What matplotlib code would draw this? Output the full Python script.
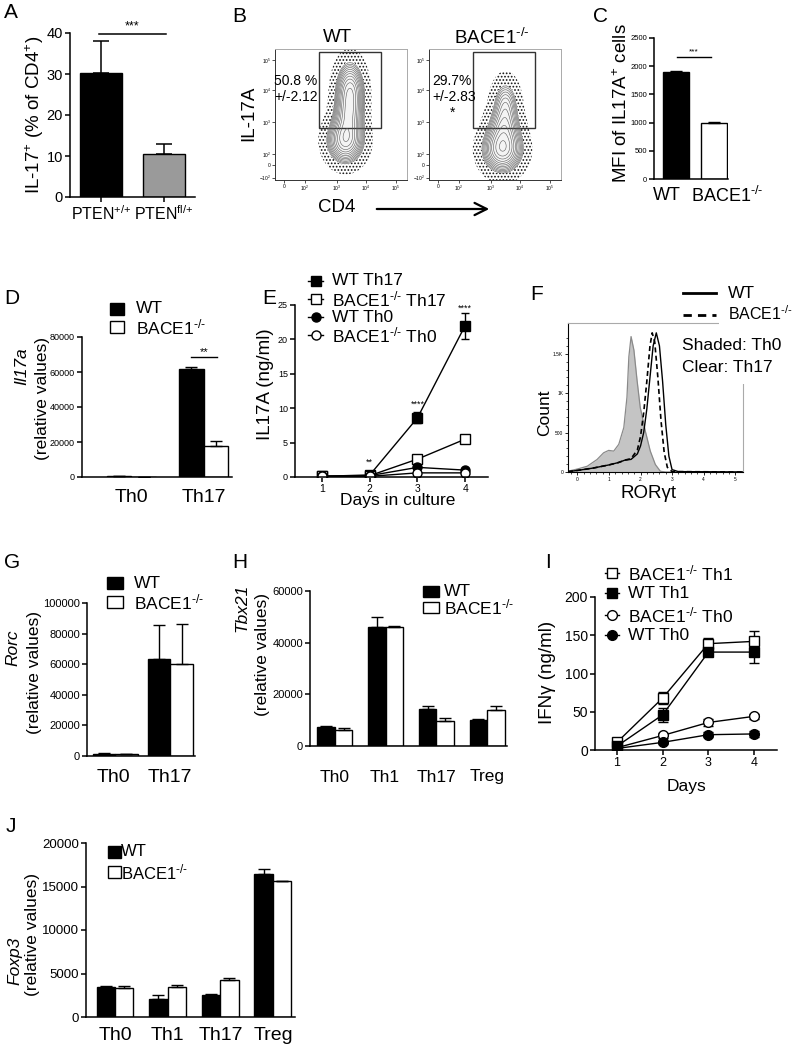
import numpy as np
import matplotlib
matplotlib.use("Agg")
import matplotlib.pyplot as plt
from matplotlib.lines import Line2D
from matplotlib.patches import Rectangle, FancyArrowPatch

plt.rcParams['font.family'] = ['Liberation Sans', 'DejaVu Sans']
plt.rcParams['mathtext.fontset'] = 'custom'
plt.rcParams['mathtext.rm'] = 'Liberation Sans'
plt.rcParams['mathtext.it'] = 'Liberation Sans:italic'
plt.rcParams['mathtext.bf'] = 'Liberation Sans:bold'
plt.rcParams['mathtext.default'] = 'regular'
plt.rcParams['hatch.color'] = '#111111'
plt.rcParams['hatch.linewidth'] = 0.8

KO = 'BACE1$^{\\text{-/-}}$'

# ---- data ----
# A
pten_groups = ['PTEN$^{\\text{+/+}}$', 'PTEN$^{\\text{fl/+}}$']
pten_il17 = [30.2, 10.6]
pten_err = [7.8, 2.4]
# B (flow populations: centre u, centre v, spread u, spread v, weight)
wt_pops = [(2.05, 0.8, 0.33, 0.40, 1.0), (2.15, 1.55, 0.27, 0.40, 0.6), (2.2, 2.35, 0.26, 0.52, 0.9)]
ko_pops = [(2.15, 0.5, 0.36, 0.40, 1.1), (2.2, 1.2, 0.30, 0.40, 0.55), (2.25, 1.95, 0.24, 0.45, 0.45)]
wt_pct = '50.8 %\n+/-2.12'
ko_pct = '29.7%\n+/-2.83'
# C
mfi = [1900, 990]
mfi_err = [8, 25]
# D
d_groups = ['Th0', 'Th17']
d_wt = [300, 61500]
d_wt_err = [0, 1500]
d_ko = [250, 17500]
d_ko_err = [0, 2800]
# E
days = [1, 2, 3, 4]
e_wt_th17 = [0.1, 0.3, 8.6, 22.0]
e_wt_th17_err = [0.05, 0.1, 0.8, 1.9]
e_ko_th17 = [0.1, 0.2, 2.6, 5.5]
e_ko_th17_err = [0.0, 0.05, 0.4, 0.3]
e_wt_th0 = [0.1, 0.2, 1.4, 1.0]
e_wt_th0_err = [0.0, 0.0, 0.2, 0.1]
e_ko_th0 = [0.1, 0.1, 0.6, 0.6]
e_ko_th0_err = [0.0, 0.0, 0.1, 0.1]
# F (histogram outlines)
f_th0_x = [-0.3, 0.0, 0.31, 0.62, 0.83, 0.99, 1.15, 1.31, 1.47, 1.57, 1.63, 1.70, 1.79, 1.89, 1.99, 2.15, 2.31, 2.47, 2.63, 2.8, 5.25]
f_th0_y = [10, 38, 73, 158, 244, 274, 265, 351, 564, 949, 1462, 1718, 1547, 1163, 821, 522, 265, 95, 9, 0, 0]
f_wt_x = [-0.3, 0.0, 0.5, 1.0, 1.3, 1.5, 1.7, 1.9, 2.0, 2.1, 2.2, 2.3, 2.4, 2.5, 2.6, 2.7, 2.8, 2.9, 3.0, 3.2, 5.25]
f_wt_y = [5, 20, 50, 90, 120, 150, 160, 230, 330, 500, 800, 1200, 1600, 1765, 1600, 1150, 600, 200, 30, 5, 0]
f_ko_x = [-0.3, 0.0, 0.5, 1.0, 1.3, 1.5, 1.7, 1.9, 2.0, 2.1, 2.2, 2.3, 2.37, 2.45, 2.55, 2.65, 2.75, 2.85, 3.0, 5.25]
f_ko_y = [5, 20, 50, 90, 120, 150, 170, 280, 450, 750, 1150, 1600, 1765, 1650, 1200, 650, 250, 60, 5, 0]
# G
g_groups = ['Th0', 'Th17']
g_wt = [1500, 63500]
g_wt_err = [700, 22000]
g_ko = [1000, 60000]
g_ko_err = [300, 26500]
# H
h_groups = ['Th0', 'Th1', 'Th17', 'Treg']
h_wt = [7300, 46000, 14500, 10000]
h_wt_err = [400, 3800, 1000, 400]
h_ko = [6200, 46000, 9800, 13800]
h_ko_err = [600, 400, 1200, 1600]
# I
i_ko_th1 = [10, 68, 139, 142]
i_ko_th1_err = [2, 8, 7, 13]
i_wt_th1 = [5, 46, 128, 128]
i_wt_th1_err = [1, 9, 4, 14]
i_ko_th0 = [3, 19, 36, 44]
i_ko_th0_err = [1, 3, 5, 3]
i_wt_th0 = [2, 10, 20, 21]
i_wt_th0_err = [1, 2, 3, 4]
# J
j_groups = ['Th0', 'Th1', 'Th17', 'Treg']
j_wt = [3400, 2100, 2550, 16400]
j_wt_err = [200, 400, 50, 600]
j_ko = [3350, 3500, 4250, 15600]
j_ko_err = [200, 200, 200, 0]

W, H = 800, 1044
fig = plt.figure(figsize=(8, 10.44), dpi=100)


def add_ax(x0, y0, x1, y1):
    return fig.add_axes([x0 / W, 1 - y1 / H, (x1 - x0) / W, (y1 - y0) / H])


def ftext(x, y, s, **kw):
    kw.setdefault('va', 'center')
    return fig.text(x / W, 1 - y / H, s, **kw)


def prism(ax, fs):
    for s in ['top', 'right']:
        ax.spines[s].set_visible(False)
    for s in ['left', 'bottom']:
        ax.spines[s].set_linewidth(1.1)
    ax.tick_params(direction='out', length=3.5, width=1.1, labelsize=fs, pad=1.5)


def grouped(ax, wt, wt_err, ko, ko_err, bw):
    x = np.arange(len(wt))
    ax.bar(x - bw / 2, wt, bw, color='black', edgecolor='black', lw=1)
    ax.bar(x + bw / 2, ko, bw, color='white', edgecolor='black', lw=1)
    ax.errorbar(x - bw / 2, wt, yerr=[np.zeros(len(wt)), wt_err], fmt='none', ecolor='black',
                elinewidth=1, capsize=4, capthick=1)
    ax.errorbar(x + bw / 2, ko, yerr=[np.zeros(len(ko)), ko_err], fmt='none', ecolor='black',
                elinewidth=1, capsize=4, capthick=1)
    return x


def square_legend(x0, x1, rows, texts, fs, tx):
    for (yc, h), face, t in zip(rows, ['black', 'white'], texts):
        fig.add_artist(Rectangle((x0 / W, 1 - (yc + h / 2) / H), (x1 - x0) / W, h / H,
                                 transform=fig.transFigure, facecolor=face, edgecolor='black', lw=1))
        ftext(tx, yc, t, fontsize=fs, ha='left')


def line_legend(x0, x1, ys, markers, faces, texts, fs, tx, ms):
    for y, m, fc, t in zip(ys, markers, faces, texts):
        fig.add_artist(Line2D([x0 / W, x1 / W], [1 - y / H, 1 - y / H], transform=fig.transFigure,
                              color='black', lw=1))
        fig.add_artist(Line2D([(x0 + x1) / 2 / W], [1 - y / H], transform=fig.transFigure,
                              marker=m, markersize=ms, markerfacecolor=fc, markeredgecolor='black',
                              markeredgewidth=1, lw=0))
        ftext(tx, y, t, fontsize=fs, ha='left')


def letter(x, y, s):
    ftext(x, y, s, fontsize=15, ha='left')


def rel_label(x_it, y_it, name, x_rel, y_rel):
    ftext(x_it, y_it, name, fontsize=12.5, ha='center', rotation=90, style='italic')
    ftext(x_rel, y_rel, '(relative values)', fontsize=12.5, ha='center', rotation=90)


# ---- A ----
ax = add_ax(70, 33, 195, 197)
prism(ax, 10.5)
xa = np.arange(2)
ax.bar(xa, pten_il17, 0.67, color=['black', '#9a9a9a'], edgecolor='black', lw=1)
ax.errorbar(xa, pten_il17, yerr=[[0, 0], pten_err], fmt='none', ecolor='black', elinewidth=1.1,
            capsize=6, capthick=1.1)
ax.set_xlim(-0.5, 1.5)
ax.set_ylim(0, 40)
ax.set_yticks([0, 10, 20, 30, 40])
ax.set_xticks(xa)
ax.set_xticklabels(pten_groups, fontsize=11.5)
ax.plot([-0.03, 1.03], [39.8, 39.8], color='black', lw=1.1, clip_on=False)
ax.text(0.5, 41.5, '***', ha='center', va='center', fontsize=9)
ftext(35, 115, 'IL-17$^{+}$ (% of CD4$^{+}$)', rotation=90, ha='center', fontsize=13.5)
letter(4, 13, 'A')

# ---- B ----
uu = np.linspace(-0.3, 4.1, 300)
vv = np.linspace(-0.48, 3.74, 300)
U, V = np.meshgrid(uu, vv)


def flow(ax, pops):
    Z = np.zeros_like(U)
    for cu, cv, su, sv, w in pops:
        Z += w * np.exp(-0.5 * (((U - cu) / su) ** 2 + ((V - cv) / sv) ** 2))
    Z /= Z.max()
    ax.contourf(U, V, Z, levels=[0.02, 0.15], colors='none', hatches=['.....'])
    ax.contourf(U, V, Z, levels=[0.15, 1.01], colors=['#f4f4f4'])
    ax.contour(U, V, Z, levels=np.geomspace(0.15, 0.95, 12), colors='#5a5a5a', linewidths=0.4)
    ax.add_patch(Rectangle((1.17, 1.19), 2.06, 2.46, fill=False, edgecolor='#333333', lw=1))
    ax.set_xlim(-0.3, 4.1)
    ax.set_ylim(-0.48, 3.74)
    ax.set_xticks([0, 0.7, 1.77, 2.73, 3.73])
    ax.set_xticklabels(['0', '$10^2$', '$10^3$', '$10^4$', '$10^5$'])
    ax.set_yticks([-0.4, 0, 0.35, 1.39, 2.42, 3.38])
    ax.set_yticklabels(['$-10^2$', '0', '$10^2$', '$10^3$', '$10^4$', '$10^5$'])
    ax.tick_params(labelsize=3.5, length=2, width=0.6, pad=1, color='#333333')
    for s in ax.spines.values():
        s.set_color('#aaaaaa')
        s.set_linewidth(0.7)
    ax.spines['left'].set_color('#333333')
    ax.spines['bottom'].set_color('#333333')


ax = add_ax(275, 49, 407, 180)
flow(ax, wt_pops)
ax = add_ax(429, 49, 561, 180)
flow(ax, ko_pops)
ftext(274, 89, wt_pct, fontsize=10, ha='left', linespacing=1.25)
ftext(432, 89, ko_pct, fontsize=10, ha='left', linespacing=1.25)
ftext(453, 113, '*', fontsize=10, ha='center')
ftext(337, 38, 'WT', fontsize=13.5, ha='center')
ftext(492, 38, KO, fontsize=13.5, ha='center')
ftext(249, 113, 'IL-17A', fontsize=13.5, ha='center', rotation=90)
ftext(337, 207, 'CD4', fontsize=13.5, ha='center')
fig.add_artist(FancyArrowPatch((374 / W, 1 - 209 / H), (492 / W, 1 - 209 / H),
                               transform=fig.transFigure, arrowstyle='->',
                               mutation_scale=22, lw=1.6, color='black'))
letter(232, 17, 'B')

# ---- C ----
ax = add_ax(654, 38, 728, 179)
prism(ax, 5.5)
xc = np.arange(2)
ax.bar(xc, mfi, 0.68, color=['black', 'white'], edgecolor='black', lw=1)
ax.errorbar(xc, mfi, yerr=[[0, 0], mfi_err], fmt='none', ecolor='black', elinewidth=1, capsize=4)
ax.set_xlim(-0.58, 1.37)
ax.set_ylim(0, 2500)
ax.set_yticks(range(0, 2501, 500))
ax.set_xticks([])
ax.plot([0.03, 0.92], [2160, 2160], color='black', lw=1, clip_on=False)
ax.text(0.47, 2250, '***', ha='center', va='center', fontsize=6)
ftext(667, 196, 'WT', fontsize=13, ha='center')
ftext(727, 196, KO, fontsize=13, ha='center')
ftext(622, 103, 'MFI of IL17A$^{+}$ cells', fontsize=13.5, ha='center', rotation=90)
letter(593, 16, 'C')

# ---- D ----
ax = add_ax(82, 337, 232, 477)
prism(ax, 6.5)
grouped(ax, d_wt, d_wt_err, d_ko, d_ko_err, 0.34)
ax.set_xlim(-0.68, 1.39)
ax.set_ylim(0, 80000)
ax.set_yticks(range(0, 80001, 20000))
ax.set_xticks([])
ax.plot([0.83, 1.18], [68600, 68600], color='black', lw=1)
ax.text(1.0, 71500, '**', ha='center', va='center', fontsize=8)
ftext(131, 498, 'Th0', fontsize=14, ha='center')
ftext(204, 498, 'Th17', fontsize=14, ha='center')
square_legend(110, 124, [(309, 12), (327, 12)], ['WT', KO], 12.5, 136)
rel_label(22, 366, 'Il17a', 42, 398)
letter(4, 298, 'D')

# ---- E ----
ax = add_ax(295, 305, 488, 477)
prism(ax, 6.5)
for vals, err, m, fc in [(e_wt_th17, e_wt_th17_err, 's', 'black'), (e_ko_th17, e_ko_th17_err, 's', 'white'),
                         (e_wt_th0, e_wt_th0_err, 'o', 'black'), (e_ko_th0, e_ko_th0_err, 'o', 'white')]:
    ax.errorbar(days, vals, yerr=err, color='black', lw=1, marker=m, ms=6.5, mfc=fc, mec='black',
                capsize=3, elinewidth=1)
ax.set_xlim(0.43, 4.48)
ax.set_ylim(0, 25)
ax.set_xticks(days)
ax.set_yticks(range(0, 26, 5))
ax.tick_params(axis='x', labelsize=7.5)
ax.text(2, 2.1, '**', ha='center', va='center', fontsize=6.5)
ax.text(3, 10.6, '****', ha='center', va='center', fontsize=6.5)
ax.text(4, 24.5, '****', ha='center', va='center', fontsize=6.5)
line_legend(308, 323, [281, 299, 317, 335], ['s', 's', 'o', 'o'],
            ['black', 'white', 'black', 'white'],
            ['WT Th17', KO + ' Th17', 'WT Th0', KO + ' Th0'], 12.5, 332, 6.5)
ftext(265, 384, 'IL17A (ng/ml)', fontsize=13.5, ha='center', rotation=90)
ftext(398, 500, 'Days in culture', fontsize=12.5, ha='center')
letter(262, 298, 'E')

# ---- F ----
ax = add_ax(568, 323, 743, 472)
ax.fill_between(f_th0_x, f_th0_y, color='#c4c4c4', lw=0)
ax.plot(f_th0_x, f_th0_y, color='#8a8a8a', lw=0.9)
ax.plot(f_wt_x, f_wt_y, color='black', lw=1)
ax.plot(f_ko_x, f_ko_y, color='black', lw=1.2, ls=(0, (3, 2)))
ax.set_xlim(-0.3, 5.25)
ax.set_ylim(0, 1890)
ax.set_xticks(range(6))
ax.set_xticklabels(['0', '1', '2', '3', '4', '5'])
ax.set_xticks(np.arange(-0.2, 5.2, 0.2), minor=True)
ax.set_yticks([0, 500, 1000, 1500])
ax.set_yticklabels(['0', '500', '1K', '1.5K'])
ax.set_yticks(range(0, 1800, 100), minor=True)
ax.tick_params(labelsize=3.5, length=2.5, width=0.6, pad=1)
ax.tick_params(which='minor', length=1.3, width=0.5)
for s in ['top', 'right']:
    ax.spines[s].set_color('#aaaaaa')
    ax.spines[s].set_linewidth(0.8)
fig.add_artist(Rectangle((719 / W, 1 - 384 / H), 28 / W, 63 / H, transform=fig.transFigure,
                         facecolor='white', edgecolor='none', zorder=5))
fig.add_artist(Line2D([683 / W, 716 / W], [1 - 293 / H, 1 - 293 / H], transform=fig.transFigure,
                      color='black', lw=2))
fig.add_artist(Line2D([683 / W, 716 / W], [1 - 315 / H, 1 - 315 / H], transform=fig.transFigure,
                      color='black', lw=2, ls=(0, (3, 2.2))))
ftext(728, 293, 'WT', fontsize=12.5, ha='left')
ftext(728, 314, KO, fontsize=11.5, ha='left', zorder=7)
ftext(682, 346, 'Shaded: Th0', fontsize=12.5, ha='left', zorder=6)
ftext(682, 367, 'Clear: Th17', fontsize=12.5, ha='left', zorder=6)
ftext(545, 413, 'Count', fontsize=12.5, ha='center', rotation=90)
ftext(648, 493, 'ROR\u03b3t', fontsize=13.5, ha='center')
letter(530, 295, 'F')

# ---- G ----
ax = add_ax(87, 603, 195, 756)
prism(ax, 8)
grouped(ax, g_wt, g_wt_err, g_ko, g_ko_err, 0.41)
ax.set_xlim(-0.51, 1.45)
ax.set_ylim(0, 100000)
ax.set_yticks(range(0, 100001, 20000))
ax.set_xticks([])
ftext(113, 778, 'Th0', fontsize=14, ha='center')
ftext(170, 778, 'Th17', fontsize=14, ha='center')
square_legend(107, 123, [(583, 12), (602, 12)], ['WT', KO], 12.5, 134)
rel_label(13, 648, 'Rorc', 34, 673)
letter(4, 563, 'G')

# ---- H ----
ax = add_ax(310, 591, 507, 746)
prism(ax, 8)
grouped(ax, h_wt, h_wt_err, h_ko, h_ko_err, 0.345)
ax.set_xlim(-0.49, 3.39)
ax.set_ylim(0, 60000)
ax.set_yticks(range(0, 60001, 20000))
ax.set_xticks([])
for xh, lab in zip([335, 385, 436, 487], h_groups):
    ftext(xh, 777, lab, fontsize=12.5, ha='center')
square_legend(423, 439, [(591, 11), (607, 11)], ['WT', KO], 12.5, 444)
rel_label(242, 608, 'Tbx21', 262, 654)
letter(232, 563, 'H')

# ---- I ----
ax = add_ax(595, 597, 777, 750)
prism(ax, 10)
for vals, err, m, fc in [(i_ko_th1, i_ko_th1_err, 's', 'white'), (i_wt_th1, i_wt_th1_err, 's', 'black'),
                         (i_ko_th0, i_ko_th0_err, 'o', 'white'), (i_wt_th0, i_wt_th0_err, 'o', 'black')]:
    ax.errorbar(days, vals, yerr=err, color='black', lw=1, marker=m, ms=7, mfc=fc, mec='black',
                capsize=3.5, elinewidth=1)
ax.set_xlim(0.52, 4.5)
ax.set_ylim(0, 200)
ax.set_xticks(days)
ax.set_yticks(range(0, 201, 50))
ax.tick_params(axis='x', labelsize=9)
line_legend(605, 619, [573, 593, 615, 635], ['s', 's', 'o', 'o'],
            ['white', 'black', 'white', 'black'],
            [KO + ' Th1', 'WT Th1', KO + ' Th0', 'WT Th0'], 12.5, 628, 7)
ftext(548, 672, 'IFN\u03b3 (ng/ml)', fontsize=13.5, ha='center', rotation=90)
ftext(687, 786, 'Days', fontsize=12.5, ha='center')
letter(545, 563, 'I')

# ---- J ----
ax = add_ax(86, 843, 295, 1017)
prism(ax, 9.5)
grouped(ax, j_wt, j_wt_err, j_ko, j_ko_err, 0.35)
ax.set_xlim(-0.55, 3.42)
ax.set_ylim(0, 20000)
ax.set_yticks(range(0, 20001, 5000))
ax.set_xticks([])
for xj, lab in zip([115, 167, 221, 273], j_groups):
    ftext(xj, 1035, lab, fontsize=14, ha='center')
square_legend(108, 121, [(852, 12), (872, 12)], ['WT', KO], 12, 121)
rel_label(15, 961, 'Foxp3', 33, 935)
letter(6, 827, 'J')

fig.savefig('out.png', dpi=100)
